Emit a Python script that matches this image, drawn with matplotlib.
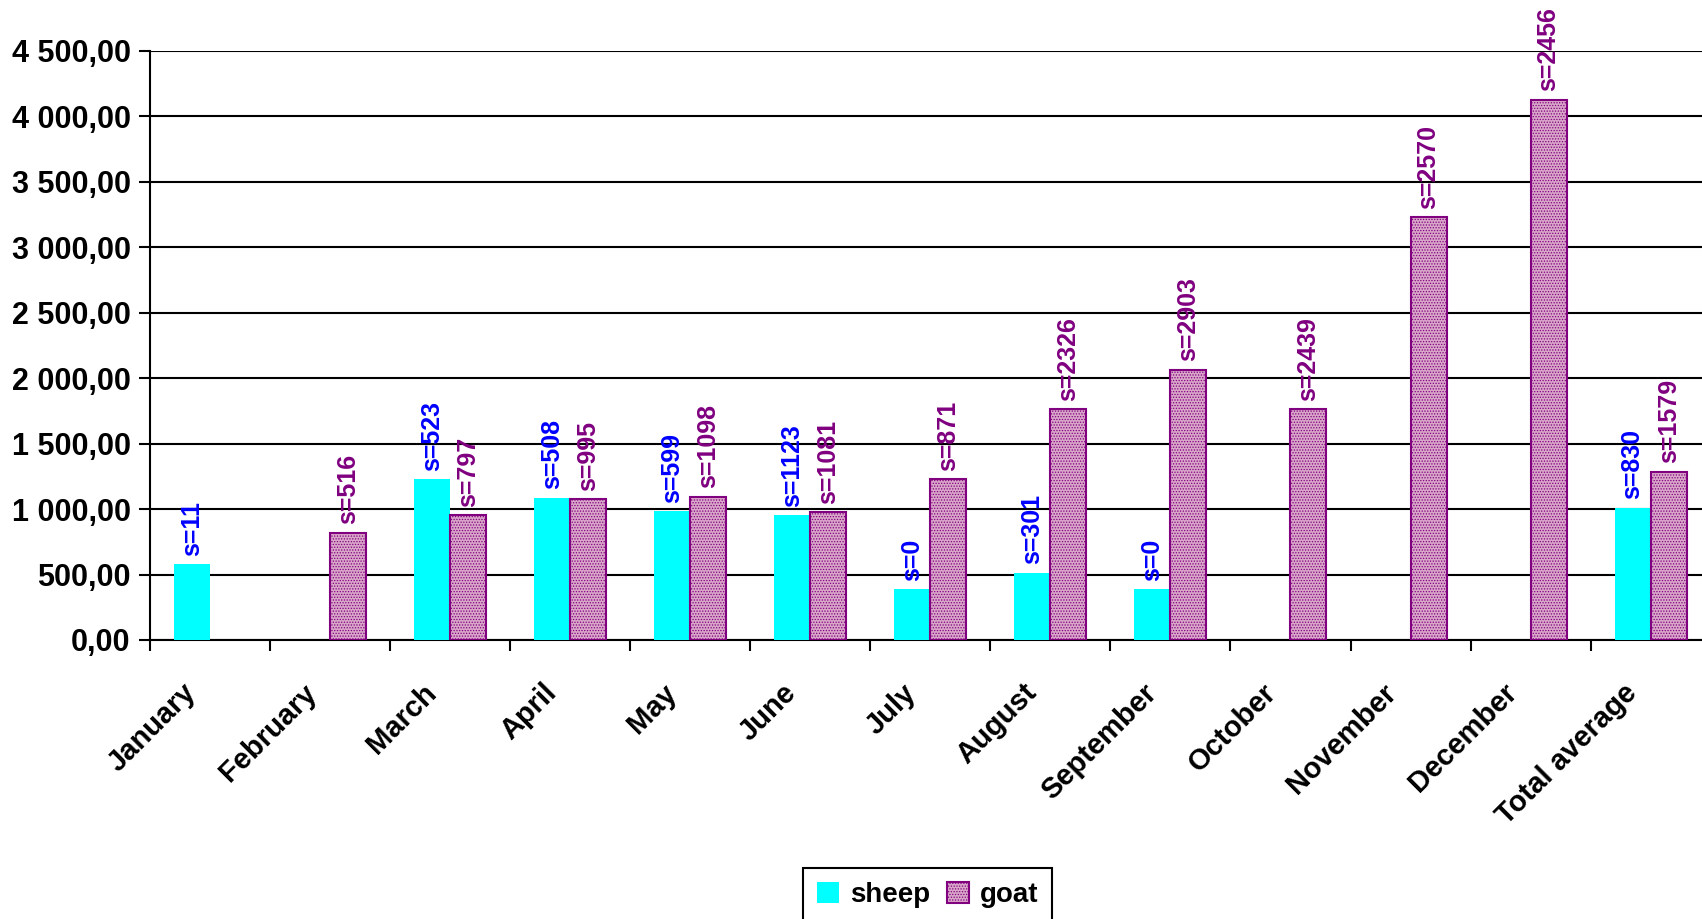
import numpy as np
import matplotlib.pyplot as plt
from matplotlib.ticker import FuncFormatter
from matplotlib.transforms import ScaledTranslation

months = ['January', 'February', 'March', 'April', 'May', 'June', 'July',
          'August', 'September', 'October', 'November', 'December', 'Total average']
sheep = [580, np.nan, 1227, 1086, 986, 953, 390, 514, 390, np.nan, np.nan, np.nan, 1011]
goat = [np.nan, 820, 953, 1077, 1094, 978, 1227, 1765, 2064, 1765, 3232, 4127, 1285]
sheep_n = ['s=11', '', 's=523', 's=508', 's=599', 's=1123', 's=0', 's=301', 's=0',
           '', '', '', 's=830']
goat_n = ['', 's=516', 's=797', 's=995', 's=1098', 's=1081', 's=871', 's=2326',
          's=2903', 's=2439', 's=2570', 's=2456', 's=1579']

plt.rcParams['font.family'] = ['Liberation Sans', 'DejaVu Sans']
plt.rcParams['font.weight'] = 'bold'
plt.rcParams['hatch.color'] = '#8a3a80'
plt.rcParams['hatch.linewidth'] = 0.6

fig = plt.figure(figsize=(17.02, 9.19), dpi=100)
ax = fig.add_axes([0.0881, 0.3036, 0.917, 0.641])

x = np.arange(len(months))
w = 0.3
b1 = ax.bar(x - w / 2, sheep, w, color='#00ffff', label='sheep', zorder=3)
b2 = ax.bar(x + w / 2, goat, w, facecolor='#d9a6c9', edgecolor='#800080',
            linewidth=1.5, hatch='......', label='goat', zorder=3)

for xi, v, t in zip(x, sheep, sheep_n):
    if t and not np.isnan(v):
        ax.annotate(t, (xi - w / 2, v), xytext=(0, 6), textcoords='offset points',
                    rotation=90, ha='center', va='bottom', color='#0000ff',
                    fontsize=18, fontweight='bold')
for xi, v, t in zip(x, goat, goat_n):
    if t and not np.isnan(v):
        ax.annotate(t, (xi + w / 2, v), xytext=(0, 6), textcoords='offset points',
                    rotation=90, ha='center', va='bottom', color='#800080',
                    fontsize=18, fontweight='bold')

ax.set_xlim(-0.5, len(months) - 0.5)
ax.set_ylim(0, 4500)
ax.set_yticks(np.arange(0, 4501, 500))
ax.yaxis.set_major_formatter(FuncFormatter(
    lambda v, p: f'{v:,.2f}'.replace(',', ' ').replace('.', ',')))
ax.grid(axis='y', color='black', linewidth=1.5, zorder=0)

ax.set_xticks(np.arange(-0.5, len(months), 1))
ax.set_xticklabels([])
ax.set_xticks(x, minor=True)
ax.set_xticklabels(months, minor=True, rotation=45, ha='right',
                   rotation_mode='anchor', fontsize=21, fontweight='bold')
ax.tick_params(axis='x', which='minor', length=0, pad=22)
ax.tick_params(axis='x', which='major', length=8, width=1.5)
ax.tick_params(axis='y', length=8, width=1.5, labelsize=22, pad=6)
for lbl in ax.get_yticklabels():
    lbl.set_fontweight('bold')
shift = ScaledTranslation(-0.28, -0.08, fig.dpi_scale_trans)
for lbl in ax.get_xticklabels(minor=True):
    lbl.set_transform(lbl.get_transform() + shift)

ax.spines['top'].set_visible(False)
ax.spines['right'].set_visible(False)
ax.spines['left'].set_linewidth(1.5)
ax.spines['bottom'].set_linewidth(1.5)

leg = fig.legend(handles=[b1, b2], loc='upper center', bbox_to_anchor=(0.545, 0.0555),
                 ncol=2, fancybox=False, edgecolor='black', framealpha=1,
                 prop={'size': 20, 'weight': 'bold'}, handlelength=0.8,
                 handleheight=0.8, handletextpad=0.4, columnspacing=0.6,
                 borderpad=0.5, borderaxespad=0)
leg.get_frame().set_linewidth(1.5)

fig.savefig('out.png', dpi=100)
